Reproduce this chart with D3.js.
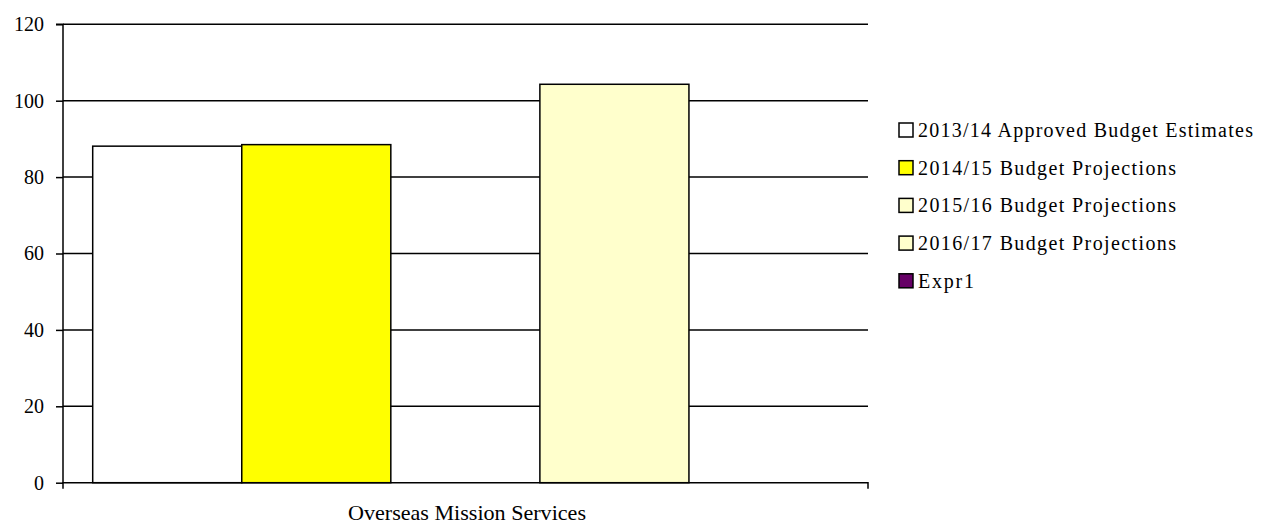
<!DOCTYPE html>
<html><head><meta charset="utf-8">
<script src="https://cdn.jsdelivr.net/npm/d3@7/dist/d3.min.js"></script>
<style>body{margin:0;background:#fff}svg{display:block}text{font-family:"Liberation Serif","Times New Roman",serif;fill:#000}</style>
</head><body><svg id="c" width="1261" height="525"></svg>
<script>
const categories = ["Overseas Mission Services"];
const seriesNames = ["2013/14 Approved Budget Estimates","2014/15 Budget Projections","2015/16 Budget Projections","2016/17 Budget Projections","Expr1"];
const seriesValues = [88.1, 88.5, 0, 104.3, 0];
const seriesColors = ["#ffffff","#ffff00","#ffffcc","#ffffcc","#660066"];
const yTicks = [0,20,40,60,80,100,120];

const svg = d3.select("#c");
const L = 63, R = 868, T = 24.3, B = 482.7;
const y = d3.scaleLinear().domain([0,120]).range([B,T]);
const x0 = d3.scaleBand().domain(categories).range([L,R]);
const x1 = d3.scaleBand().domain(seriesNames).range([92.7 - L, 838 - L]);

// gridlines
svg.append("g").selectAll("line").data(yTicks.filter(d=>d>0)).join("line")
  .attr("x1",L).attr("x2",R).attr("y1",d=>y(d)).attr("y2",d=>y(d))
  .attr("stroke","#000").attr("stroke-width",1.5);

// bars
const g = svg.append("g");
categories.forEach((c,ci)=>{
  g.selectAll("rect.b"+ci).data(seriesNames.map((s,i)=>({s,v:seriesValues[i],c:seriesColors[i]})).filter(d=>d.v>0))
   .join("rect")
   .attr("x",d=>x0(c)+x1(d.s)).attr("width",x1.bandwidth())
   .attr("y",d=>y(d.v)).attr("height",d=>y(0)-y(d.v))
   .attr("fill",d=>d.c).attr("stroke","#000").attr("stroke-width",1.5);
});

// y axis
const ya = svg.append("g").attr("transform",`translate(${L},0)`)
  .call(d3.axisLeft(y).tickValues(yTicks).tickSize(7).tickPadding(12));
ya.select(".domain").attr("stroke","#000").attr("stroke-width",1.5).attr("d",`M-7,${T}H0V${B}`);
ya.selectAll(".tick line").attr("stroke","#000").attr("stroke-width",1.5);
ya.selectAll(".tick text").style("font-size","20px").attr("font-family","Liberation Serif");

// x axis
const xa = svg.append("g").attr("transform",`translate(0,${B})`)
  .call(d3.axisBottom(x0).tickSize(0).tickPadding(0));
xa.select(".domain").attr("stroke","#000").attr("stroke-width",1.5).attr("d",`M${L},6V0H${R}V6`);
xa.selectAll(".tick text").attr("dy",null).attr("y",37).attr("x",1.5)
  .style("font-size","21px").attr("font-family","Liberation Serif")
  .attr("textLength",238).attr("lengthAdjust","spacingAndGlyphs");

// legend
const legendWidths = [335, 258, 258, 258, 56];
const lg = svg.append("g");
seriesNames.forEach((s,i)=>{
  const cy = 130 + i*37.7;
  lg.append("rect").attr("x",899).attr("y",cy-7).attr("width",14).attr("height",14)
    .attr("fill",seriesColors[i]).attr("stroke","#000").attr("stroke-width",1.5);
  lg.append("text").attr("x",918).attr("y",cy).attr("dy","0.34em").style("font-size","20px")
    .attr("textLength",legendWidths[i]).attr("lengthAdjust","spacing").text(s);
});
</script></body></html>
